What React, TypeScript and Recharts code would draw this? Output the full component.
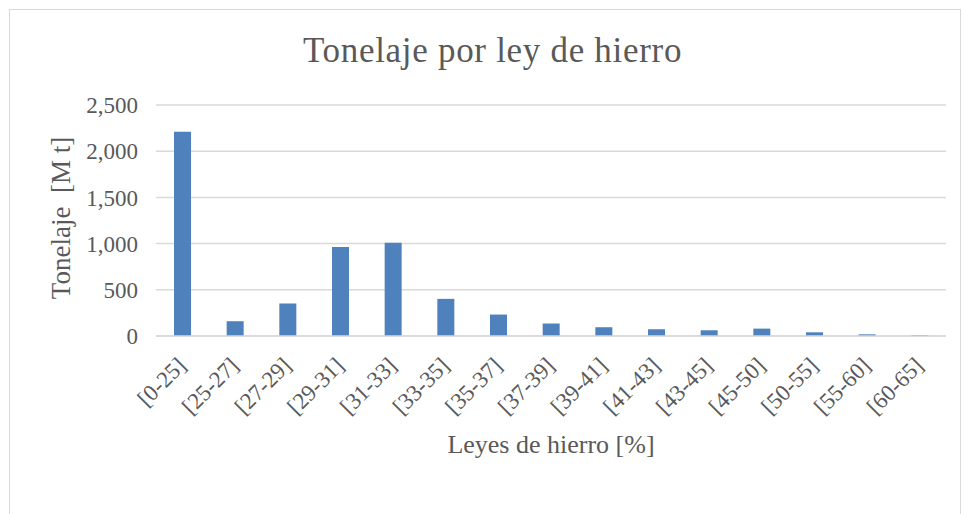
import { BarChart, Bar, XAxis, YAxis, CartesianGrid } from 'recharts';

const categories = ['[0-25]', '[25-27]', '[27-29]', '[29-31]', '[31-33]', '[33-35]', '[35-37]', '[37-39]', '[39-41]', '[41-43]', '[43-45]', '[45-50]', '[50-55]', '[55-60]', '[60-65]'];
const tonnage = [2210, 160, 352, 962, 1008, 402, 232, 135, 95, 73, 62, 80, 40, 18, 8];
const yTicks = [0, 500, 1000, 1500, 2000, 2500];

const data = categories.map((name, i) => ({ name, value: tonnage[i] }));

const FONT = '"Liberation Serif", "Times New Roman", serif';
const TEXT = '#595959';

// rotated category labels, end of text sits just right of the bar centre
const XTick = ({ x, y, payload }: any) => {
  const ax = x + 5;
  const ay = y + 31;
  return (
    <text x={ax} y={ay} transform={`rotate(-45, ${ax}, ${ay})`} textAnchor="end" fill={TEXT} fontSize={23} fontFamily={FONT}>
      {payload.value}
    </text>
  );
};

export default function App() {
  return (
    <div style={{ position: 'absolute', left: 0, top: 0, width: 964, height: 514, background: '#fff', overflow: 'hidden' }}>
      <div style={{ position: 'absolute', left: 9, top: 9, width: 952, height: 520, border: '1px solid #d9d9d9', boxSizing: 'border-box' }} />
      <div style={{ position: 'absolute', left: 0, top: 0 }}>
        <BarChart width={964} height={514} data={data} margin={{ top: 105, right: 18, bottom: 78, left: 96 }}>
          <CartesianGrid vertical={false} stroke="#d9d9d9" strokeWidth={1.5} />
          <XAxis
            dataKey="name"
            height={100}
            interval={0}
            tickLine={false}
            tickSize={0}
            tickMargin={0}
            axisLine={{ stroke: '#d9d9d9', strokeWidth: 1.5 }}
            tick={<XTick />}
          />
          <YAxis
            width={60}
            domain={[0, 2500]}
            ticks={yTicks}
            tickLine={false}
            axisLine={false}
            tickMargin={12}
            tick={{ fill: TEXT, fontSize: 23, fontFamily: FONT }}
            tickFormatter={(v: number) => v.toLocaleString('en-US')}
          />
          <Bar dataKey="value" fill="#4f81bd" barSize={17} isAnimationActive={false} />
        </BarChart>
      </div>
      <svg width={964} height={514} style={{ position: 'absolute', left: 0, top: 0, pointerEvents: 'none' }}>
        <text x={492.5} y={62} textAnchor="middle" fill={TEXT} fontSize={35} letterSpacing={0.7} fontFamily={FONT}>
          Tonelaje por ley de hierro
        </text>
        <text x={70} y={218} transform="rotate(-90, 70, 218)" textAnchor="middle" fill={TEXT} fontSize={27} fontFamily={FONT} style={{ whiteSpace: 'pre' }}>
          {'Tonelaje  [M t]'}
        </text>
        <text x={551} y={453} textAnchor="middle" fill={TEXT} fontSize={26} fontFamily={FONT}>
          Leyes de hierro [%]
        </text>
      </svg>
    </div>
  );
}
